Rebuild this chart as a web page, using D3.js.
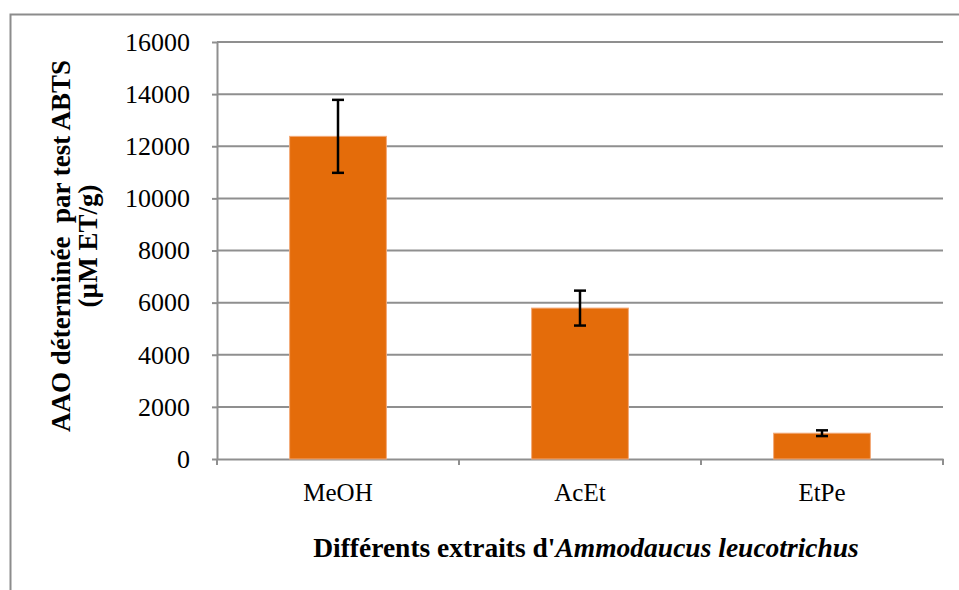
<!DOCTYPE html>
<html><head><meta charset="utf-8">
<script src="https://cdn.jsdelivr.net/npm/d3@7"></script>
<style>body{margin:0;background:#fff}svg{display:block}</style>
</head><body><svg id="c" width="959" height="590" style="font-family:'Liberation Serif','Times New Roman','DejaVu Serif',serif"></svg>
<script>
const categories = ["MeOH", "AcEt", "EtPe"];
const values = [12380, 5790, 990];
const errors = [1400, 670, 110];
const yTicks = [0, 2000, 4000, 6000, 8000, 10000, 12000, 14000, 16000];

const FONT = "'Liberation Serif','Times New Roman','DejaVu Serif',serif";
const svg = d3.select("#c");
const m = {l:217, r:943, t:42, b:459};
// outer frame
svg.append("path").attr("d","M10.5,590 V14.5 H959").attr("fill","none").attr("stroke","#8c8c8c").attr("stroke-width",2);

const x = d3.scaleBand().domain(categories).range([m.l, m.r]).paddingInner(0).paddingOuter(0);
const y = d3.scaleLinear().domain([0,16000]).range([m.b, m.t]);

// gridlines
svg.append("g").selectAll("line").data(yTicks.filter(d=>d>0)).join("line")
  .attr("x1",m.l).attr("x2",m.r).attr("y1",d=>y(d)).attr("y2",d=>y(d))
  .attr("stroke","#8f8f8f").attr("stroke-width",2);

// y axis
const ya = svg.append("g").attr("transform",`translate(${m.l},0)`)
  .call(d3.axisLeft(y).tickValues(yTicks).tickSize(5).tickSizeOuter(0).tickPadding(22).tickFormat(d3.format("d")));
ya.attr("font-family",FONT);
ya.select(".domain").attr("stroke","#8f8f8f").attr("stroke-width",2);
ya.selectAll(".tick line").attr("stroke","#8f8f8f").attr("stroke-width",2);
ya.selectAll("text").attr("font-size",26).attr("fill","#000").style("font-family",FONT);

// x axis
const xa = svg.append("g").attr("transform",`translate(0,${m.b})`)
  .call(d3.axisBottom(x).tickSize(0).tickPadding(24));
xa.attr("font-family",FONT);
xa.select(".domain").attr("stroke","#8f8f8f").attr("stroke-width",2);
xa.selectAll("text").attr("font-size",25).attr("fill","#000").style("font-family",FONT);
// category boundary ticks
const bounds = categories.map(c=>x(c)).concat([x(categories[categories.length-1])+x.bandwidth()]);
svg.append("g").selectAll("line").data(bounds).join("line")
  .attr("x1",d=>d).attr("x2",d=>d).attr("y1",m.b).attr("y2",m.b+6)
  .attr("stroke","#8f8f8f").attr("stroke-width",2);

// bars
const bw = x.bandwidth()*0.4;
svg.append("g").selectAll("rect").data(categories).join("rect")
  .attr("x",(d)=>x(d)+x.bandwidth()/2-bw/2).attr("width",bw)
  .attr("y",(d,i)=>y(values[i])).attr("height",(d,i)=>y(0)-y(values[i]))
  .attr("fill","#e46c0a").attr("stroke","#f3a978").attr("stroke-width",1);

// error bars
const eg = svg.append("g").attr("stroke","#000").attr("stroke-width",2.5);
categories.forEach((c,i)=>{
  const cx = x(c)+x.bandwidth()/2;
  const hi = y(values[i]+errors[i]), lo = y(values[i]-errors[i]);
  eg.append("line").attr("x1",cx).attr("x2",cx).attr("y1",hi).attr("y2",lo);
  eg.append("line").attr("x1",cx-6).attr("x2",cx+6).attr("y1",hi).attr("y2",hi);
  eg.append("line").attr("x1",cx-6).attr("x2",cx+6).attr("y1",lo).attr("y2",lo);
});

// x title
const xt = svg.append("text").attr("x",586).attr("y",557).attr("text-anchor","middle")
  .attr("font-size",27.5).attr("font-weight","bold").style("font-family",FONT);
xt.append("tspan").text("Différents extraits d'");
xt.append("tspan").attr("font-style","italic").text("Ammodaucus leucotrichus");

// y title
const yt = svg.append("text").attr("transform","translate(70,246) rotate(-90)").attr("text-anchor","middle")
  .attr("font-size",27).attr("font-weight","bold").style("font-family",FONT).style("white-space","pre");
yt.append("tspan").attr("x",0).attr("y",0).text("AAO déterminée  par test ABTS");
yt.append("tspan").attr("x",0).attr("y",27).text("(µM ET/g)");
</script></body></html>
